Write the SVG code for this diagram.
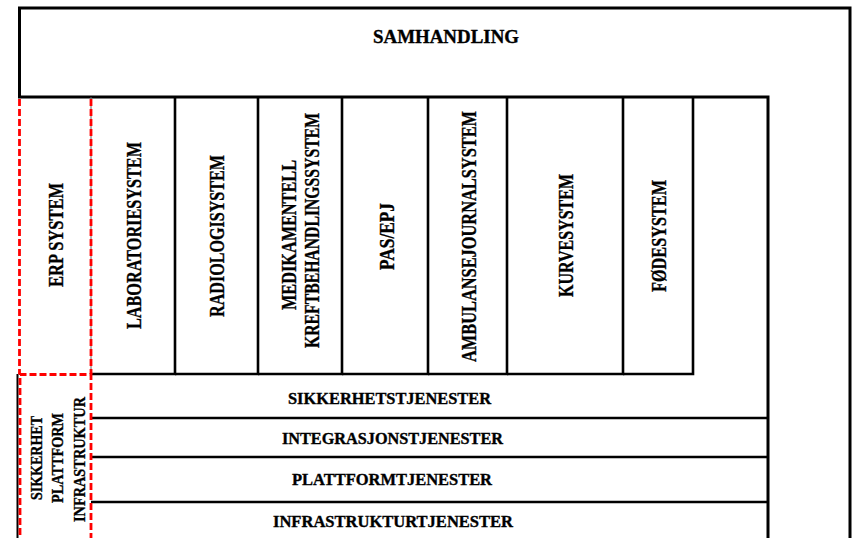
<svg xmlns="http://www.w3.org/2000/svg" width="854" height="538" viewBox="0 0 854 538">
  <style>
    .ln { stroke: #000; stroke-width: 3; fill: none; }
    .dv { stroke: #000; stroke-width: 2.6; fill: none; }
    .red { stroke: #ff0000; stroke-width: 2.8; stroke-dasharray: 7 3; fill: none; }
    .lbl { font-family: "Liberation Serif", "DejaVu Serif", serif; font-weight: bold; fill: #000; stroke: #000; stroke-width: 0.35; text-anchor: middle; }
    .col { font-size: 21px; }
    .svc { font-size: 16px; }
    .sml { font-size: 17px; }
  </style>
  <rect width="854" height="538" fill="#fff"/>

  <!-- outer frame: SAMHANDLING band across the top and down the right -->
  <g id="samhandling">
    <path class="ln" d="M19.5,97 V8 H850 V545"/>
    <path class="ln" d="M18,97 H768 V545"/>
    <text class="lbl" x="446" y="43" font-size="19" textLength="146" lengthAdjust="spacingAndGlyphs">SAMHANDLING</text>
  </g>

  <!-- column systems -->
  <g id="laboratoriesystem">
    <path class="dv" d="M91,374 H175 V97"/>
    <text class="lbl col" transform="translate(140.5,235.5) rotate(-90)" textLength="187" lengthAdjust="spacingAndGlyphs">LABORATORIESYSTEM</text>
  </g>
  <g id="radiologisystem">
    <path class="dv" d="M175,374 H258 V97"/>
    <text class="lbl col" transform="translate(223.5,236) rotate(-90)" textLength="162" lengthAdjust="spacingAndGlyphs">RADIOLOGISYSTEM</text>
  </g>
  <g id="medikamentell">
    <path class="dv" d="M258,374 H342 V97"/>
    <text class="lbl col" transform="translate(296,235) rotate(-90)" textLength="150" lengthAdjust="spacingAndGlyphs">MEDIKAMENTELL</text>
    <text class="lbl col" transform="translate(319,230.5) rotate(-90)" textLength="235" lengthAdjust="spacingAndGlyphs">KREFTBEHANDLINGSSYSTEM</text>
  </g>
  <g id="pas-epj">
    <path class="dv" d="M342,374 H428 V97"/>
    <text class="lbl col" transform="translate(394,236.5) rotate(-90)" textLength="67" lengthAdjust="spacingAndGlyphs">PAS/EPJ</text>
  </g>
  <g id="ambulansejournalsystem">
    <path class="dv" d="M428,374 H507 V97"/>
    <text class="lbl col" transform="translate(476,236.5) rotate(-90)" textLength="251" lengthAdjust="spacingAndGlyphs">AMBULANSEJOURNALSYSTEM</text>
  </g>
  <g id="kurvesystem">
    <path class="dv" d="M507,374 H623 V97"/>
    <text class="lbl col" transform="translate(573,235.5) rotate(-90)" textLength="123" lengthAdjust="spacingAndGlyphs">KURVESYSTEM</text>
  </g>
  <g id="fodesystem">
    <path class="dv" d="M623,374 H693 V97"/>
    <text class="lbl col" transform="translate(666,236) rotate(-90)" textLength="112" lengthAdjust="spacingAndGlyphs">FØDESYSTEM</text>
  </g>

  <!-- service layers -->
  <g id="sikkerhetstjenester">
    <text class="lbl svc" x="389.5" y="404" textLength="203" lengthAdjust="spacingAndGlyphs">SIKKERHETSTJENESTER</text>
  </g>
  <g id="integrasjonstjenester">
    <path class="dv" d="M91,418 H768"/>
    <text class="lbl svc" x="392.5" y="443.5" textLength="221" lengthAdjust="spacingAndGlyphs">INTEGRASJONSTJENESTER</text>
  </g>
  <g id="plattformtjenester">
    <path class="dv" d="M91,457 H768"/>
    <text class="lbl svc" x="392" y="485" textLength="200" lengthAdjust="spacingAndGlyphs">PLATTFORMTJENESTER</text>
  </g>
  <g id="infrastrukturtjenester">
    <path class="dv" d="M91,502 H768"/>
    <text class="lbl svc" x="393" y="527" textLength="240" lengthAdjust="spacingAndGlyphs">INFRASTRUKTURTJENESTER</text>
  </g>

  <!-- dashed red outlines on the left -->
  <g id="erp-system">
    <path d="M91,97 V374" stroke="#666" stroke-width="1" fill="none"/>
    <path class="red" d="M19.5,99 V374 M91,99 V374"/>
    <text class="lbl col" transform="translate(63,235) rotate(-90)" textLength="104" lengthAdjust="spacingAndGlyphs">ERP SYSTEM</text>
  </g>
  <g id="sikkerhet-plattform-infrastruktur">
    <path d="M17.5,374 V545" stroke="#000" stroke-width="2" fill="none"/>
    <path class="red" d="M20,545 V374.5 H91 V545"/>
    <text class="lbl sml" transform="translate(42,458) rotate(-90)" textLength="84" lengthAdjust="spacingAndGlyphs">SIKKERHET</text>
    <text class="lbl sml" transform="translate(63,458) rotate(-90)" textLength="90" lengthAdjust="spacingAndGlyphs">PLATTFORM</text>
    <text class="lbl sml" transform="translate(85,459.5) rotate(-90)" textLength="125" lengthAdjust="spacingAndGlyphs">INFRASTRUKTUR</text>
  </g>
</svg>
